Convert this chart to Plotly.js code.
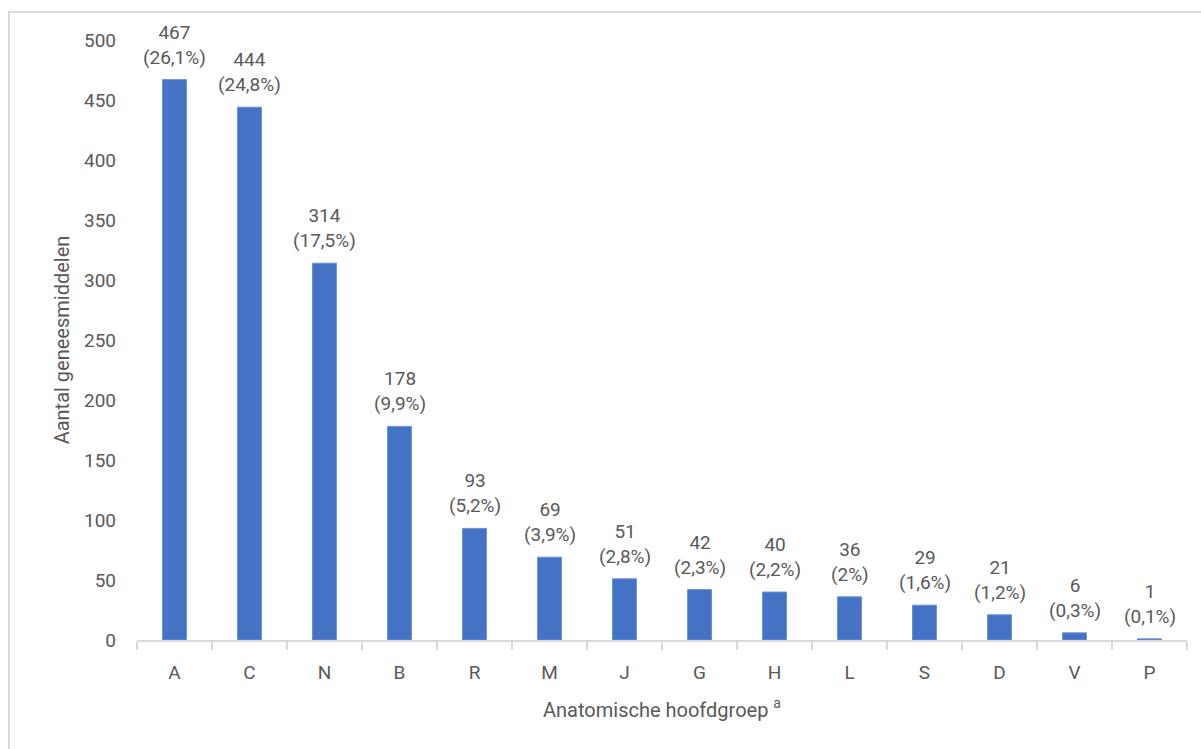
<!DOCTYPE html>
<html>
<head>
<meta charset="utf-8">
<script src="https://cdn.plot.ly/plotly-3.0.1.min.js"></script>
<style>
  html, body { margin: 0; padding: 0; background: #ffffff; }
  #frame { position: absolute; left: 8px; top: 11px; width: 1300px; height: 800px;
           border-left: 2px solid #d9d9d9; border-top: 2px solid #d9d9d9; box-sizing: border-box; }
  #chart { position: absolute; left: 0; top: 0; width: 1201px; height: 749px; }
</style>
</head>
<body>
<div id="frame"></div>
<div id="chart"></div>
<script>
// Aantal geneesmiddelen per anatomische hoofdgroep (ATC)
const categories = ['A', 'C', 'N', 'B', 'R', 'M', 'J', 'G', 'H', 'L', 'S', 'D', 'V', 'P'];
const counts = [467, 444, 314, 178, 93, 69, 51, 42, 40, 36, 29, 21, 6, 1];
const shares = ['26,1%', '24,8%', '17,5%', '9,9%', '5,2%', '3,9%', '2,8%', '2,3%', '2,2%', '2%', '1,6%', '1,2%', '0,3%', '0,1%'];
const yTicks = [0, 50, 100, 150, 200, 250, 300, 350, 400, 450, 500];

const textColor = '#595959';
const fontFamily = 'Roboto, "Noto Sans", sans-serif';

const trace = {
  type: 'bar',
  x: categories,
  y: counts,
  marker: { color: '#4472C4', line: { color: '#6f93d3', width: 1 } },
  hoverinfo: 'x+y'
};

// value and share above each bar
const annotations = categories.map((c, i) => ({
  x: c,
  y: counts[i],
  xref: 'x',
  yref: 'y',
  text: counts[i] + '<br>(' + shares[i] + ')',
  showarrow: false,
  yanchor: 'bottom',
  yshift: 9,
  font: { family: fontFamily, size: 19, color: textColor }
}));

const layout = {
  width: 1201,
  height: 749,
  margin: { l: 137, r: 14, t: 40, b: 109 },
  paper_bgcolor: 'rgba(0,0,0,0)',
  plot_bgcolor: 'rgba(0,0,0,0)',
  bargap: 0.68,
  showlegend: false,
  font: { family: fontFamily, size: 19, color: textColor },
  xaxis: {
    type: 'category',
    showline: true,
    linecolor: '#d9d9d9',
    linewidth: 1.5,
    ticks: 'outside',
    tickson: 'boundaries',
    ticklen: 8,
    tickcolor: '#d9d9d9',
    tickwidth: 1.5,
    ticklabelstandoff: 15,
    showgrid: false,
    zeroline: false,
    tickfont: { family: fontFamily, size: 19, color: textColor },
    title: { text: 'Anatomische hoofdgroep <sup>a</sup>', standoff: 19,
             font: { family: fontFamily, size: 20, color: textColor } }
  },
  yaxis: {
    range: [0, 500],
    tickvals: yTicks,
    showline: false,
    showgrid: false,
    zeroline: false,
    ticks: '',
    ticklabelstandoff: 20,
    tickfont: { family: fontFamily, size: 19, color: textColor },
    title: { text: 'Aantal geneesmiddelen', standoff: 8,
             font: { family: fontFamily, size: 20, color: textColor } }
  },
  annotations: annotations
};

Plotly.newPlot('chart', [trace], layout, { displayModeBar: false, staticPlot: true });
</script>
</body>
</html>
